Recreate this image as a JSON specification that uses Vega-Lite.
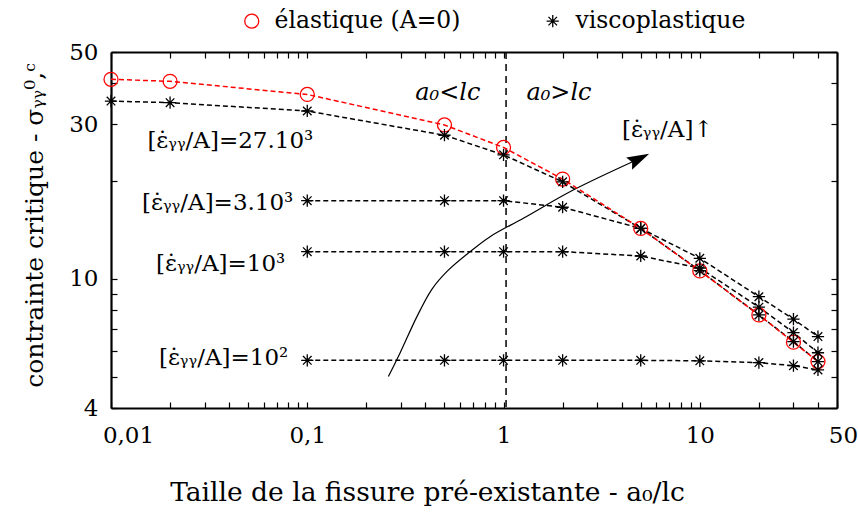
{
  "$schema": "https://vega.github.io/schema/vega-lite/v6.json",
  "width": 726,
  "height": 356,
  "autosize": "none",
  "padding": {"left": 111, "top": 52, "right": 21, "bottom": 104},
  "background": "white",
  "config": {"view": {"stroke": null}, "font": "DejaVu Serif"},
  "datasets": {
    "pts": [
      {"series": "el", "type": "élastique (A=0)", "a": 0.01, "s": 41.2},
      {"series": "el", "type": "élastique (A=0)", "a": 0.02, "s": 40.6},
      {"series": "el", "type": "élastique (A=0)", "a": 0.1, "s": 37.0},
      {"series": "el", "type": "élastique (A=0)", "a": 0.5, "s": 29.8},
      {"series": "el", "type": "élastique (A=0)", "a": 1, "s": 25.4},
      {"series": "el", "type": "élastique (A=0)", "a": 2, "s": 20.3},
      {"series": "el", "type": "élastique (A=0)", "a": 5, "s": 14.3},
      {"series": "el", "type": "élastique (A=0)", "a": 10, "s": 10.58},
      {"series": "el", "type": "élastique (A=0)", "a": 20, "s": 7.74},
      {"series": "el", "type": "élastique (A=0)", "a": 30, "s": 6.38},
      {"series": "el", "type": "élastique (A=0)", "a": 40, "s": 5.56},
      {"series": "r27e3", "type": "viscoplastique", "a": 0.01, "s": 35.3},
      {"series": "r27e3", "type": "viscoplastique", "a": 0.02, "s": 34.9},
      {"series": "r27e3", "type": "viscoplastique", "a": 0.1, "s": 32.9},
      {"series": "r27e3", "type": "viscoplastique", "a": 0.5, "s": 27.7},
      {"series": "r27e3", "type": "viscoplastique", "a": 1, "s": 24.1},
      {"series": "r27e3", "type": "viscoplastique", "a": 2, "s": 19.9},
      {"series": "r27e3", "type": "viscoplastique", "a": 5, "s": 14.3},
      {"series": "r27e3", "type": "viscoplastique", "a": 10, "s": 10.6},
      {"series": "r27e3", "type": "viscoplastique", "a": 20, "s": 7.74},
      {"series": "r27e3", "type": "viscoplastique", "a": 30, "s": 6.41},
      {"series": "r27e3", "type": "viscoplastique", "a": 40, "s": 5.56},
      {"series": "r3e3", "type": "viscoplastique", "a": 0.1, "s": 17.41},
      {"series": "r3e3", "type": "viscoplastique", "a": 0.5, "s": 17.41},
      {"series": "r3e3", "type": "viscoplastique", "a": 1, "s": 17.41},
      {"series": "r3e3", "type": "viscoplastique", "a": 2, "s": 16.62},
      {"series": "r3e3", "type": "viscoplastique", "a": 5, "s": 14.3},
      {"series": "r3e3", "type": "viscoplastique", "a": 10, "s": 11.57},
      {"series": "r3e3", "type": "viscoplastique", "a": 20, "s": 8.81},
      {"series": "r3e3", "type": "viscoplastique", "a": 30, "s": 7.51},
      {"series": "r3e3", "type": "viscoplastique", "a": 40, "s": 6.64},
      {"series": "r1e3", "type": "viscoplastique", "a": 0.1, "s": 12.13},
      {"series": "r1e3", "type": "viscoplastique", "a": 0.5, "s": 12.13},
      {"series": "r1e3", "type": "viscoplastique", "a": 1, "s": 12.13},
      {"series": "r1e3", "type": "viscoplastique", "a": 2, "s": 12.13},
      {"series": "r1e3", "type": "viscoplastique", "a": 5, "s": 11.76},
      {"series": "r1e3", "type": "viscoplastique", "a": 10, "s": 10.8},
      {"series": "r1e3", "type": "viscoplastique", "a": 20, "s": 8.18},
      {"series": "r1e3", "type": "viscoplastique", "a": 30, "s": 6.83},
      {"series": "r1e3", "type": "viscoplastique", "a": 40, "s": 5.92},
      {"series": "r1e2", "type": "viscoplastique", "a": 0.1, "s": 5.61},
      {"series": "r1e2", "type": "viscoplastique", "a": 0.5, "s": 5.61},
      {"series": "r1e2", "type": "viscoplastique", "a": 1, "s": 5.61},
      {"series": "r1e2", "type": "viscoplastique", "a": 2, "s": 5.61},
      {"series": "r1e2", "type": "viscoplastique", "a": 5, "s": 5.61},
      {"series": "r1e2", "type": "viscoplastique", "a": 10, "s": 5.59},
      {"series": "r1e2", "type": "viscoplastique", "a": 20, "s": 5.52},
      {"series": "r1e2", "type": "viscoplastique", "a": 30, "s": 5.4},
      {"series": "r1e2", "type": "viscoplastique", "a": 40, "s": 5.24}
    ],
    "arrow": [
      {"ord": 1, "a": 0.259, "s": 5.0},
      {"ord": 2, "a": 0.297, "s": 5.91},
      {"ord": 3, "a": 0.362, "s": 7.65},
      {"ord": 4, "a": 0.432, "s": 9.3},
      {"ord": 5, "a": 0.52, "s": 10.6},
      {"ord": 6, "a": 0.676, "s": 12.13},
      {"ord": 7, "a": 0.854, "s": 13.49},
      {"ord": 8, "a": 1.261, "s": 15.37},
      {"ord": 9, "a": 2.265, "s": 18.78},
      {"ord": 10, "a": 4.91, "s": 23.45}
    ],
    "head": [{"a": 4.91, "s": 23.45}],
    "divider": [{"a": 1.03}],
    "notes": [
      {"kind": "rate", "text": "[ε̇ᵧᵧ/A]=27.10³", "a": 0.1073, "s": 25.3},
      {"kind": "rate", "text": "[ε̇ᵧᵧ/A]=3.10³", "a": 0.0849, "s": 16.3},
      {"kind": "rate", "text": "[ε̇ᵧᵧ/A]=10³", "a": 0.0773, "s": 10.58},
      {"kind": "rate", "text": "[ε̇ᵧᵧ/A]=10²", "a": 0.08, "s": 5.43},
      {"kind": "regime", "text": "a₀<lc", "a": 0.52, "s": 35.6},
      {"kind": "regime", "text": "a₀>lc", "a": 1.916, "s": 35.6},
      {"kind": "arrowlabel", "text": "[ε̇ᵧᵧ/A]↑", "a": 6.83, "s": 27.4}
    ]
  },
  "layer": [
    {
      "data": {"name": "divider"},
      "mark": {"type": "rule", "color": "black", "strokeWidth": 1.5, "strokeDash": [7, 5]},
      "encoding": {
        "x": {"field": "a", "type": "quantitative", "scale": {"type": "log", "domain": [0.01, 50], "nice": false}, "axis": null}
      }
    },
    {
      "data": {"name": "arrow"},
      "mark": {"type": "line", "color": "black", "strokeWidth": 1.2, "interpolate": "catmull-rom"},
      "encoding": {
        "x": {"field": "a", "type": "quantitative", "scale": {"type": "log", "domain": [0.01, 50], "nice": false},
          "axis": {"orient": "top", "values": [0.01,0.02,0.03,0.04,0.05,0.06,0.07,0.08,0.09,0.1,0.2,0.3,0.4,0.5,0.6,0.7,0.8,0.9,1,2,3,4,5,6,7,8,9,10,20,30,40,50],
            "labels": false, "title": null, "grid": false, "domainColor": "black", "domainWidth": 2.2, "tickColor": "black", "tickWidth": 1.2, "tickSize": -6}},
        "y": {"field": "s", "type": "quantitative", "scale": {"type": "log", "domain": [4, 50], "nice": false},
          "axis": {"orient": "right", "values": [4,5,6,7,8,9,10,20,30,40,50],
            "labels": false, "title": null, "grid": false, "domainColor": "black", "domainWidth": 2.2, "tickColor": "black", "tickWidth": 1.2, "tickSize": -6}},
        "order": {"field": "ord", "type": "quantitative"}
      }
    },
    {
      "data": {"name": "head"},
      "mark": {"type": "point", "shape": "M-1,-0.6L1,0L-1,0.6L-0.7,0Z", "filled": true, "color": "black", "size": 500, "angle": 334, "opacity": 1},
      "encoding": {
        "x": {"field": "a", "type": "quantitative", "scale": {"type": "log", "domain": [0.01, 50], "nice": false}, "axis": null},
        "y": {"field": "s", "type": "quantitative", "scale": {"type": "log", "domain": [4, 50], "nice": false}, "axis": null}
      }
    },
    {
      "data": {"name": "pts"},
      "transform": [{"filter": "datum.type === 'viscoplastique'"}],
      "mark": {"type": "line", "color": "black", "strokeWidth": 1.5, "strokeDash": [5, 3]},
      "encoding": {
        "x": {"field": "a", "type": "quantitative", "scale": {"type": "log", "domain": [0.01, 50], "nice": false}, "axis": null},
        "y": {"field": "s", "type": "quantitative", "scale": {"type": "log", "domain": [4, 50], "nice": false}, "axis": null},
        "detail": {"field": "series", "type": "nominal"}
      }
    },
    {
      "data": {"name": "pts"},
      "transform": [{"filter": "datum.type !== 'viscoplastique'"}],
      "mark": {"type": "line", "color": "#ff0000", "strokeWidth": 1.5, "strokeDash": [5, 3]},
      "encoding": {
        "x": {"field": "a", "type": "quantitative", "scale": {"type": "log", "domain": [0.01, 50], "nice": false}, "axis": null},
        "y": {"field": "s", "type": "quantitative", "scale": {"type": "log", "domain": [4, 50], "nice": false}, "axis": null}
      }
    },
    {
      "data": {"name": "pts"},
      "mark": {"type": "point", "filled": false, "strokeWidth": 1.3, "opacity": 1},
      "encoding": {
        "x": {"field": "a", "type": "quantitative", "scale": {"type": "log", "domain": [0.01, 50], "nice": false},
          "axis": {"orient": "bottom", "values": [0.01,0.02,0.03,0.04,0.05,0.06,0.07,0.08,0.09,0.1,0.2,0.3,0.4,0.5,0.6,0.7,0.8,0.9,1,2,3,4,5,6,7,8,9,10,20,30,40,50],
            "labelExpr": "datum.value == 0.01 ? '0,01' : datum.value == 0.1 ? '0,1' : datum.value == 1 ? '1' : datum.value == 10 ? '10' : datum.value == 50 ? '50' : ''",
            "labelOverlap": false, "labelFlush": false, "labelBound": false,
            "labelOffset": {"condition": [{"test": "datum.value < 0.015", "value": 17}, {"test": "datum.value > 45", "value": 6}], "value": 0},
            "labelFont": "DejaVu Serif", "labelFontSize": 23, "labelColor": "black", "labelPadding": 22,
            "title": "Taille de la fissure pré-existante - a₀/lc", "titleFont": "DejaVu Serif", "titleFontSize": 26.5, "titleFontWeight": "normal", "titleColor": "black",
            "titleX": 316, "titleY": 92, "titleAlign": "center", "titleBaseline": "alphabetic", "titleAngle": 0,
            "grid": false, "domainColor": "black", "domainWidth": 2.2, "tickColor": "black", "tickWidth": 1.2, "tickSize": -6}},
        "y": {"field": "s", "type": "quantitative", "scale": {"type": "log", "domain": [4, 50], "nice": false},
          "axis": {"orient": "left", "values": [4,5,6,7,8,9,10,20,30,40,50],
            "labelExpr": "datum.value == 4 || datum.value == 10 || datum.value == 30 || datum.value == 50 ? datum.value + '' : ''",
            "labelOverlap": false, "labelFlush": false, "labelBound": false,
            "labelFont": "DejaVu Serif", "labelFontSize": 23, "labelColor": "black", "labelPadding": 19,
            "title": "contrainte critique - σᵧᵧ⁰,ᶜ", "titleFont": "DejaVu Serif", "titleFontSize": 25, "titleFontWeight": "normal", "titleColor": "black",
            "titleX": -69, "titleY": 173, "titleAlign": "center", "titleBaseline": "alphabetic", "titleAngle": -90,
            "grid": false, "domainColor": "black", "domainWidth": 2.2, "tickColor": "black", "tickWidth": 1.2, "tickSize": -6}},
        "color": {"field": "type", "type": "nominal",
          "scale": {"domain": ["élastique (A=0)", "viscoplastique"], "range": ["#ff0000", "#000000"]},
          "legend": {"orient": "none", "legendX": 129, "legendY": -43, "direction": "horizontal", "title": null,
            "labelFont": "DejaVu Serif", "labelFontSize": 23.5, "labelOffset": 11, "labelLimit": 400, "columnPadding": 80, "padding": 0,
            "symbolStrokeWidth": 1.3,
            "encode": {"labels": {"update": {"fill": {"signal": "datum.value === 'viscoplastique' ? 'black' : '#ff0000'"}}}}}},
        "shape": {"field": "type", "type": "nominal",
          "scale": {"domain": ["élastique (A=0)", "viscoplastique"], "range": ["circle", "M0,-1L0,1M-1,0L1,0M-0.7,-0.7L0.7,0.7M-0.7,0.7L0.7,-0.7"]}},
        "size": {"field": "type", "type": "nominal",
          "scale": {"domain": ["élastique (A=0)", "viscoplastique"], "range": [196, 150]}}
      }
    },
    {
      "data": {"name": "notes"},
      "transform": [{"filter": "datum.kind === 'rate'"}],
      "mark": {"type": "text", "align": "right", "baseline": "alphabetic", "font": "DejaVu Serif", "fontSize": 23, "color": "black"},
      "encoding": {
        "x": {"field": "a", "type": "quantitative", "scale": {"type": "log", "domain": [0.01, 50], "nice": false}, "axis": null},
        "y": {"field": "s", "type": "quantitative", "scale": {"type": "log", "domain": [4, 50], "nice": false}, "axis": null},
        "text": {"field": "text"}
      }
    },
    {
      "data": {"name": "notes"},
      "transform": [{"filter": "datum.kind === 'regime'"}],
      "mark": {"type": "text", "align": "center", "baseline": "alphabetic", "font": "DejaVu Serif", "fontStyle": "italic", "fontSize": 24, "color": "black"},
      "encoding": {
        "x": {"field": "a", "type": "quantitative", "scale": {"type": "log", "domain": [0.01, 50], "nice": false}, "axis": null},
        "y": {"field": "s", "type": "quantitative", "scale": {"type": "log", "domain": [4, 50], "nice": false}, "axis": null},
        "text": {"field": "text"}
      }
    },
    {
      "data": {"name": "notes"},
      "transform": [{"filter": "datum.kind === 'arrowlabel'"}],
      "mark": {"type": "text", "align": "center", "baseline": "alphabetic", "font": "DejaVu Serif", "fontSize": 23, "color": "black"},
      "encoding": {
        "x": {"field": "a", "type": "quantitative", "scale": {"type": "log", "domain": [0.01, 50], "nice": false}, "axis": null},
        "y": {"field": "s", "type": "quantitative", "scale": {"type": "log", "domain": [4, 50], "nice": false}, "axis": null},
        "text": {"field": "text"}
      }
    }
  ],
  "resolve": {"axis": {"x": "independent", "y": "independent"}}
}
